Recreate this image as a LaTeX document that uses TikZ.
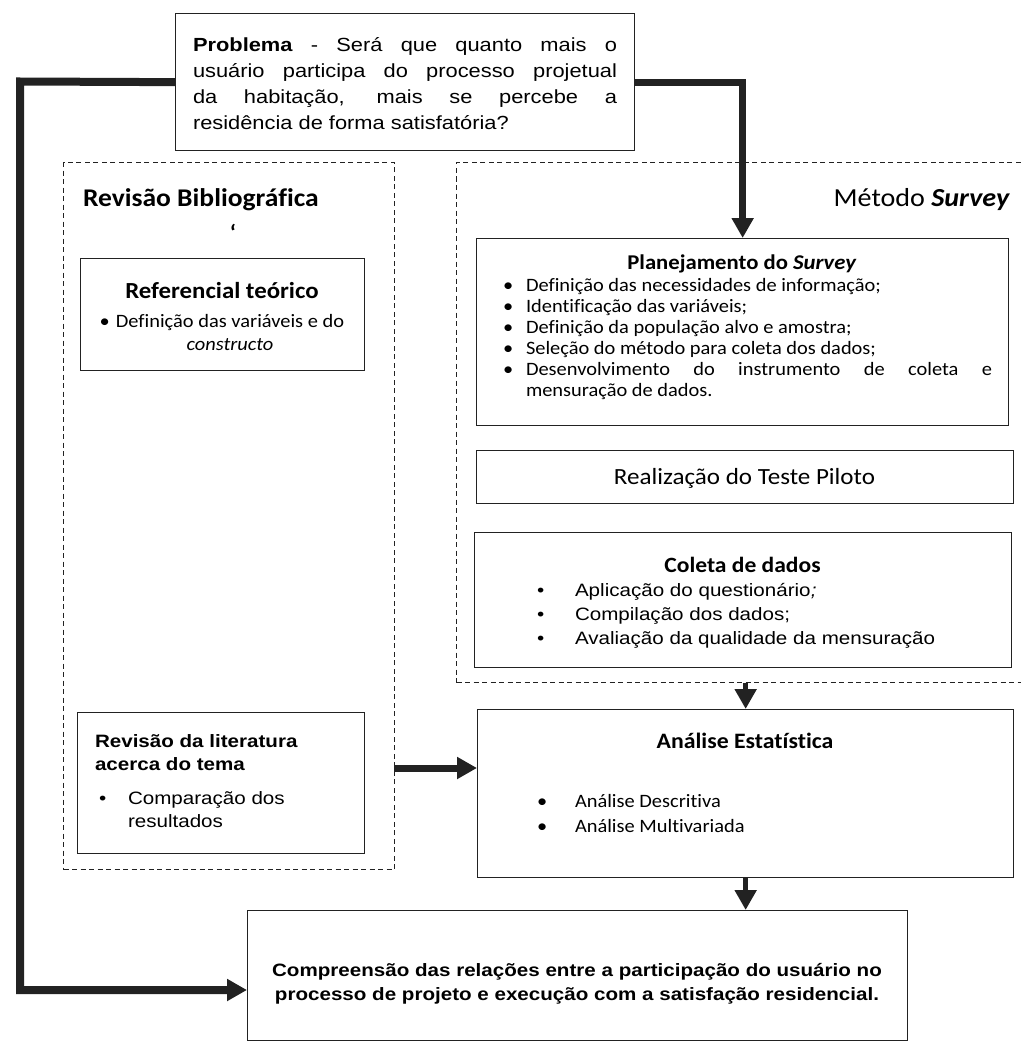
\documentclass[tikz,border=0pt]{standalone}
\usepackage{fontspec}
\usetikzlibrary{arrows.meta}
\newfontfamily\fA{Liberation Sans}[FakeStretch=1.15]
\newfontfamily\fC{Carlito}[FakeStretch=1.08, Ligatures=NoCommon]
\definecolor{ink}{HTML}{222222}
\begin{document}
\begin{tikzpicture}[x=1pt,y=-1pt,
  box/.style={draw=ink, line width=1.3pt, anchor=north west, inner sep=0pt},
  dbox/.style={draw=ink, line width=1pt, dash pattern=on 5pt off 3.5pt, anchor=north west, inner sep=0pt},
  conn/.style={draw=ink, line width=7pt, line join=miter},
  arr/.style={conn, -{Triangle[length=20pt,width=21pt]}},
  tl/.style={anchor=base west, inner sep=0pt, outer sep=0pt},
  tc/.style={anchor=base, inner sep=0pt, outer sep=0pt},
  tr/.style={anchor=base east, inner sep=0pt, outer sep=0pt},
  fprob/.style={font=\fA\fontsize{19}{26}\selectfont},
  farial/.style={font=\fA\fontsize{17.9}{24}\selectfont},
  farialb/.style={font=\fA\bfseries\fontsize{17.9}{24}\selectfont},
  fcal/.style={font=\fC\fontsize{18.9}{21}\selectfont}]
\useasboundingbox (0,0) rectangle (1020,1046);

% boxes
\node[box, minimum width=459pt, minimum height=137pt] (prob) at (175,13) {};
\node[dbox, minimum width=331pt, minimum height=707pt] (revd) at (63,162) {};
\node[dbox, minimum width=600pt, minimum height=520pt] (metd) at (456,162) {};
\node[box, minimum width=284pt, minimum height=112pt] (ref) at (80,258) {};
\node[box, minimum width=287pt, minimum height=141pt] (lit) at (77,712) {};
\node[box, minimum width=532pt, minimum height=187pt] (plan) at (476,238) {};
\node[box, minimum width=537pt, minimum height=53pt] (real) at (476,450) {};
\node[box, minimum width=537pt, minimum height=135pt] (col) at (474,532) {};
\node[box, minimum width=536pt, minimum height=168pt] (ana) at (477,709) {};
\node[box, minimum width=660pt, minimum height=130pt] (fin) at (247,910) {};

% problem text
\node[tl, fprob] (p1) at (193,52) {\makebox[424pt][s]{\textbf{Problema} - Será que quanto mais o}};
\node[tl, fprob] (p2) at (193,78) {\makebox[424pt][s]{usuário participa do processo projetual}};
\node[tl, fprob] (p3) at (193,104) {\makebox[424pt][s]{da habitação, mais se percebe a}};
\node[tl, fprob] (p4) at (193,130) {residência de forma satisfatória?};

% Revisao bibliografica
\node[tl, font=\fC\bfseries\fontsize{25.5}{30}\selectfont] (rbt) at (83,206) {Revisão Bibliográfica};
\node[tc, font=\fC\bfseries\fontsize{22}{26}\selectfont] (tick) at (233,240) {‘};
\node[tc, font=\fC\bfseries\fontsize{23}{26}\selectfont] (reft) at (222,298) {Referencial teórico};
\node[tc, fcal] (ref1) at (230,327) {\llap{\textbullet\hspace{6pt}}Definição das variáveis e do};
\node[tc, fcal] (ref2) at (230,350) {\textit{constructo}};

\node[tl, farialb] (lit1) at (95,747) {Revisão da literatura};
\node[tl, farialb] (lit2) at (95,770) {acerca do tema};
\node[tl, farial] (litb) at (99,804) {\textbullet};
\node[tl, farial] (lit3) at (128,804) {Comparação dos};
\node[tl, farial] (lit4) at (128,827) {resultados};

% Metodo survey
\node[tr, font=\fC\fontsize{26}{30}\selectfont] (mst) at (1010,206) {Método \textbf{\textit{Survey}}};
\node[tc, font=\fC\bfseries\fontsize{21}{26}\selectfont] (plt) at (742,269) {Planejamento do \textit{Survey}};
\node[tl, fcal] (pb1) at (503,291) {\textbullet};
\node[tl, fcal] (pl1) at (526,291) {Definição das necessidades de informação;};
\node[tl, fcal] (pb2) at (503,312) {\textbullet};
\node[tl, fcal] (pl2) at (526,312) {Identificação das variáveis;};
\node[tl, fcal] (pb3) at (503,333) {\textbullet};
\node[tl, fcal] (pl3) at (526,333) {Definição da população alvo e amostra;};
\node[tl, fcal] (pb4) at (503,354) {\textbullet};
\node[tl, fcal] (pl4) at (526,354) {Seleção do método para coleta dos dados;};
\node[tl, fcal] (pb5) at (503,375) {\textbullet};
\node[tl, fcal] (pl5) at (526,375) {\makebox[466pt][s]{Desenvolvimento do instrumento de coleta e}};
\node[tl, fcal] (pl6) at (526,396) {mensuração de dados.};

\node[tc, font=\fC\fontsize{23.2}{26}\selectfont] (realt) at (744.5,484) {Realização do Teste Piloto};

\node[tc, font=\fC\bfseries\fontsize{21.8}{26}\selectfont] (colt) at (742.5,572) {Coleta de dados};
\node[tl, farial] (cb1) at (537,596) {\textbullet};
\node[tl, farial] (cl1) at (575,596) {Aplicação do questionário\textit{;}};
\node[tl, farial] (cb2) at (537,620) {\textbullet};
\node[tl, farial] (cl2) at (575,620) {Compilação dos dados;};
\node[tl, farial] (cb3) at (537,644) {\textbullet};
\node[tl, farial] (cl3) at (575,644) {Avaliação da qualidade da mensuração};

\node[tc, font=\fC\bfseries\fontsize{22}{26}\selectfont] (anat) at (745,748) {Análise Estatística};
\node[tl, fcal] (ab1) at (537,807) {\textbullet};
\node[tl, fcal] (al1) at (575,807) {Análise Descritiva};
\node[tl, fcal] (ab2) at (537,832) {\textbullet};
\node[tl, fcal] (al2) at (575,832) {Análise Multivariada};

\node[tc, farialb] (f1) at (577,976) {Compreensão das relações entre a participação do usuário no};
\node[tc, farialb] (f2) at (577,1000) {processo de projeto e execução com a satisfação residencial.};

% connectors
\coordinate (c1) at (20,81.5);
\coordinate (c2) at (20,990);
\coordinate (c3) at (394,768);
\draw[arr, line width=8pt] (prob.west) -- (c1) -- (c2) -- (c2 -| fin.west);
\draw[arr] (prob.east) -| (plan.north);
\draw[arr] (c3) -- (c3 -| ana.west);
\draw[arr, line width=5pt] (ana.north |- metd.south) -- (ana.north);
\draw[arr, line width=5pt] (ana.south) -- (ana.south |- fin.north);
\end{tikzpicture}
\end{document}
